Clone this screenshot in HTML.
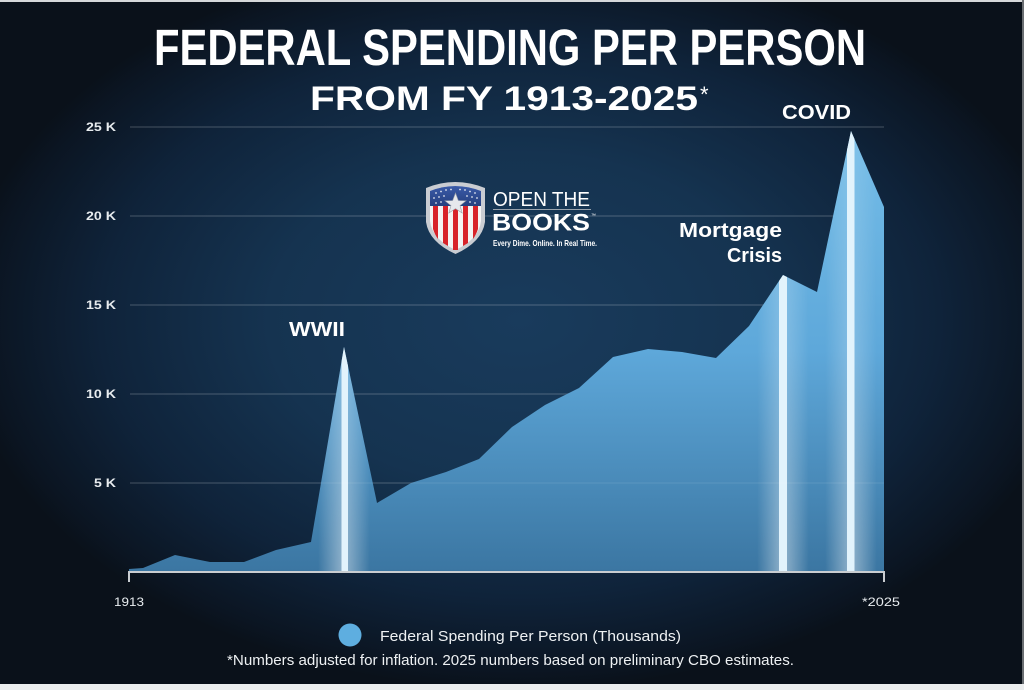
<!DOCTYPE html>
<html><head><meta charset="utf-8"><style>
html,body{margin:0;padding:0;background:#0a111a;}
svg{display:block;}
</style></head><body>
<svg width="1024" height="690" viewBox="0 0 1024 690" xmlns="http://www.w3.org/2000/svg">
<defs>
<radialGradient id="bg" gradientUnits="userSpaceOnUse" cx="0" cy="0" r="560" gradientTransform="translate(520,320) scale(1,0.66)">
<stop offset="0" stop-color="#193b5c"/>
<stop offset="0.45" stop-color="#153350"/>
<stop offset="0.75" stop-color="#0f233a"/>
<stop offset="0.95" stop-color="#0b1522"/>
<stop offset="1" stop-color="#0a111a"/>
</radialGradient>
<linearGradient id="area" x1="0" y1="130" x2="0" y2="572" gradientUnits="userSpaceOnUse">
<stop offset="0" stop-color="#74bde8"/>
<stop offset="0.5" stop-color="#5ea8da"/>
<stop offset="1" stop-color="#3b76a2"/>
</linearGradient>
<linearGradient id="glowH" x1="0" y1="0" x2="1" y2="0">
<stop offset="0" stop-color="#ffffff" stop-opacity="0"/>
<stop offset="0.5" stop-color="#ffffff" stop-opacity="0.45"/>
<stop offset="1" stop-color="#ffffff" stop-opacity="0"/>
</linearGradient>
<linearGradient id="glowV" x1="0" y1="0" x2="0" y2="1">
<stop offset="0" stop-color="#fff" stop-opacity="0.2"/>
<stop offset="0.6" stop-color="#fff" stop-opacity="0.6"/>
<stop offset="1" stop-color="#fff" stop-opacity="1"/>
</linearGradient>
<mask id="vm" maskUnits="userSpaceOnUse" x="0" y="0" width="1024" height="690">
<rect x="0" y="120" width="1024" height="452" fill="url(#glowV)"/>
</mask>
<clipPath id="areaClip">
<path d="M129,572 L129,569 L143,568 L175,555 L210,562 L244,562 L276,550 L311,542 L344,347 L377,503 L411,483 L446,472 L479,459 L512,427 L545,405 L579,388 L613,357 L648,349 L682,352 L716,358 L749,326 L783,275 L817,292 L851,131 L884,207 L884,572 Z"/>
</clipPath>
<linearGradient id="shieldTop" x1="0" y1="0" x2="0" y2="1">
<stop offset="0" stop-color="#3a5aa8"/>
<stop offset="1" stop-color="#25407f"/>
</linearGradient>
</defs>

<rect x="0" y="0" width="1024" height="690" fill="url(#bg)"/>
<!-- borders -->
<rect x="0" y="0" width="1024" height="2" fill="#d6d8da"/>
<rect x="1022" y="0" width="2" height="690" fill="#6a6e72"/>
<rect x="0" y="684" width="1024" height="6" fill="#eceeef"/>

<!-- gridlines -->
<g stroke="#ffffff" stroke-opacity="0.16" stroke-width="1.5">
<line x1="130" y1="127" x2="884" y2="127"/>
<line x1="130" y1="216" x2="884" y2="216"/>
<line x1="130" y1="305" x2="884" y2="305"/>
<line x1="130" y1="394" x2="884" y2="394"/>
<line x1="130" y1="483" x2="884" y2="483"/>
</g>

<!-- y labels -->
<g font-family="Liberation Sans, sans-serif" font-weight="bold" font-size="12" fill="#e8ecef" text-anchor="end">
<text x="116" y="131" textLength="30" lengthAdjust="spacingAndGlyphs">25 K</text>
<text x="116" y="220" textLength="30" lengthAdjust="spacingAndGlyphs">20 K</text>
<text x="116" y="309" textLength="30" lengthAdjust="spacingAndGlyphs">15 K</text>
<text x="116" y="398" textLength="30" lengthAdjust="spacingAndGlyphs">10 K</text>
<text x="116" y="487" textLength="22" lengthAdjust="spacingAndGlyphs">5 K</text>
</g>

<!-- area -->
<path d="M129,572 L129,569 L143,568 L175,555 L210,562 L244,562 L276,550 L311,542 L344,347 L377,503 L411,483 L446,472 L479,459 L512,427 L545,405 L579,388 L613,357 L648,349 L682,352 L716,358 L749,326 L783,275 L817,292 L851,131 L884,207 L884,572 Z" fill="url(#area)"/>

<!-- glows -->
<g clip-path="url(#areaClip)">
<g mask="url(#vm)">
<rect x="318" y="120" width="52" height="452" fill="url(#glowH)"/>
<rect x="757" y="120" width="52" height="452" fill="url(#glowH)"/>
<rect x="825" y="120" width="52" height="452" fill="url(#glowH)"/>
</g>
<rect x="341.5" y="120" width="6.5" height="452" fill="#e2f3fc"/>
<rect x="779" y="120" width="8" height="452" fill="#e2f3fc"/>
<rect x="847" y="120" width="7.5" height="452" fill="#e2f3fc"/>
<line x1="129" y1="483" x2="884" y2="483" stroke="#ffffff" stroke-opacity="0.07" stroke-width="1.5"/>
</g>

<!-- axis -->
<g stroke="#c9cdd1" stroke-width="2">
<line x1="129" y1="572" x2="884" y2="572"/>
<line x1="129" y1="571" x2="129" y2="582"/>
<line x1="884" y1="571" x2="884" y2="582"/>
</g>

<!-- x labels -->
<g font-family="Liberation Sans, sans-serif" font-size="12" fill="#e8ecef">
<text x="114" y="606" textLength="30" lengthAdjust="spacingAndGlyphs">1913</text>
<text x="862" y="606" textLength="38" lengthAdjust="spacingAndGlyphs">*2025</text>
</g>

<!-- titles -->
<g font-family="Liberation Sans, sans-serif" font-weight="bold" fill="#ffffff">
<text x="154" y="65" font-size="51" textLength="712" lengthAdjust="spacingAndGlyphs">FEDERAL SPENDING PER PERSON</text>
<text x="310" y="110" font-size="34" textLength="388" lengthAdjust="spacingAndGlyphs">FROM FY 1913-2025</text>
</g>
<text x="700" y="102" font-family="Liberation Sans, sans-serif" font-size="22" fill="#ffffff">*</text>

<!-- annotations -->
<g font-family="Liberation Sans, sans-serif" font-weight="bold" fill="#ffffff" font-size="20.5">
<text x="782" y="119" textLength="69" lengthAdjust="spacingAndGlyphs">COVID</text>
<text x="679" y="237" textLength="103" lengthAdjust="spacingAndGlyphs">Mortgage</text>
<text x="727" y="262" textLength="55" lengthAdjust="spacingAndGlyphs">Crisis</text>
<text x="289" y="336" textLength="56" lengthAdjust="spacingAndGlyphs">WWII</text>
</g>

<!-- logo -->
<g>
<path d="M426,188 Q455,176 485,188 L485,222 Q482,242 455.5,254 Q429,242 426,222 Z" fill="#c9ccd2"/>
<path d="M430,191 Q455,181 481,191 L481,221 Q479,239 455.5,250 Q432,239 430,221 Z" fill="#f4f4f4"/>
<path d="M430,191 Q455,181 481,191 L481,206 L430,206 Z" fill="url(#shieldTop)"/>
<g fill="#d8232a">
<path d="M433,206 L438,206 L438,239 Q435,235 433,229 Z"/>
<path d="M443,206 L448,206 L448,246 L443,243 Z"/>
<path d="M453,206 L458,206 L458,250 L453,250 Z"/>
<path d="M463,206 L468,206 L468,243 L463,246 Z"/>
<path d="M473,206 L478,206 L478,229 Q476,235 473,239 Z"/>
</g>
<g fill="#ffffff" opacity="0.85">
<circle cx="436" cy="193" r="0.9"/><circle cx="441" cy="191.5" r="0.9"/><circle cx="446" cy="190" r="0.9"/><circle cx="451" cy="189.5" r="0.9"/><circle cx="460" cy="189.5" r="0.9"/><circle cx="465" cy="190" r="0.9"/><circle cx="470" cy="191.5" r="0.9"/><circle cx="475" cy="193" r="0.9"/>
<circle cx="434" cy="198" r="0.9"/><circle cx="439" cy="197" r="0.9"/><circle cx="444" cy="196" r="0.9"/><circle cx="467" cy="196" r="0.9"/><circle cx="472" cy="197" r="0.9"/><circle cx="477" cy="198" r="0.9"/>
<circle cx="436" cy="203" r="0.9"/><circle cx="441" cy="202" r="0.9"/><circle cx="470" cy="202" r="0.9"/><circle cx="475" cy="203" r="0.9"/>
</g>
<path d="M455.5,193 L458.3,200.5 L466,200.8 L460,205.6 L462.2,213 L455.5,208.6 L448.8,213 L451,205.6 L445,200.8 L452.7,200.5 Z" fill="#e6e8ec" stroke="#9aa0a8" stroke-width="0.6"/>
<g font-family="Liberation Sans, sans-serif" fill="#ffffff">
<text x="493" y="206" font-size="20" textLength="97" lengthAdjust="spacingAndGlyphs">OPEN THE</text>
<line x1="493" y1="209.5" x2="591" y2="209.5" stroke="#9aa4ae" stroke-width="1"/>
<text x="492" y="230.5" font-size="24" font-weight="bold" textLength="98" lengthAdjust="spacingAndGlyphs">BOOKS</text>
<text x="591" y="217" font-size="5">™</text>
<text x="493" y="246" font-size="8.5" font-weight="bold" textLength="104" lengthAdjust="spacingAndGlyphs">Every Dime. Online. In Real Time.</text>
</g>
</g>

<!-- legend -->
<circle cx="350" cy="635" r="11.5" fill="#5eaee0"/>
<g font-family="Liberation Sans, sans-serif" fill="#eef1f3">
<text x="380" y="641" font-size="15" textLength="301" lengthAdjust="spacingAndGlyphs">Federal Spending Per Person (Thousands)</text>
<text x="227" y="665" font-size="14.5" textLength="567" lengthAdjust="spacingAndGlyphs">*Numbers adjusted for inflation. 2025 numbers based on preliminary CBO estimates.</text>
</g>
</svg>
</body></html>
